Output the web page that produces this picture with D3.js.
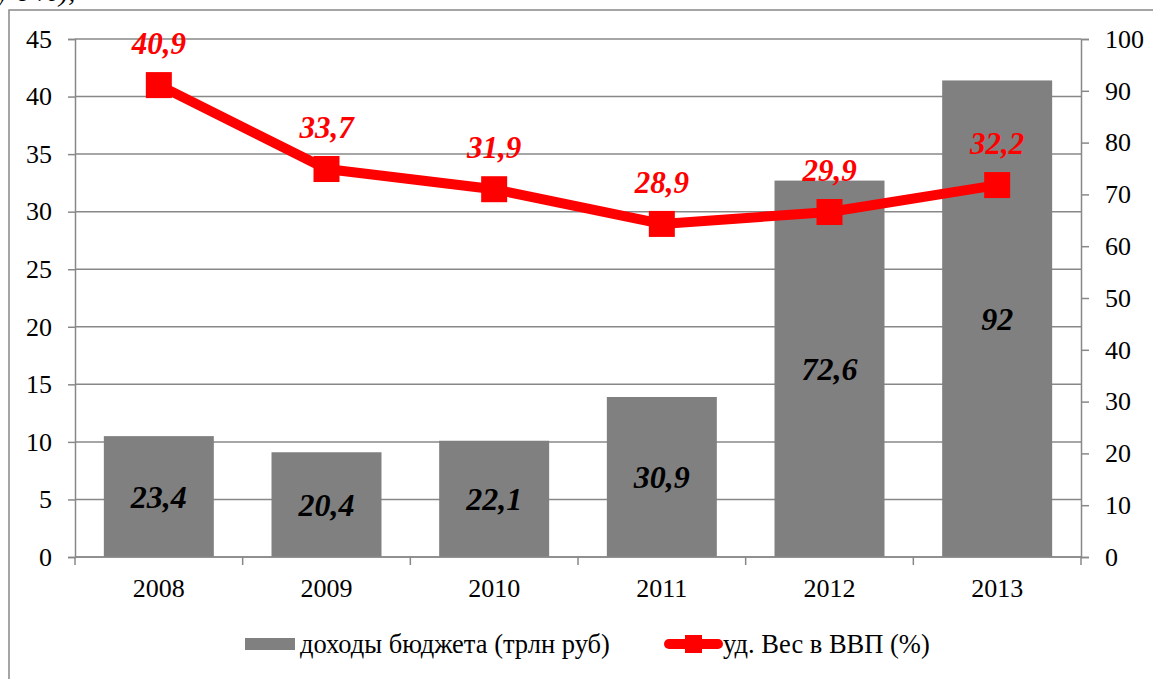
<!DOCTYPE html>
<html>
<head>
<meta charset="utf-8">
<script src="https://cdn.jsdelivr.net/npm/d3@7"></script>
<style>
  body { margin: 0; background: #fff; overflow: hidden; }
  svg text { font-family: "Liberation Serif", Tinos, "Times New Roman", Times, serif; }
</style>
</head>
<body>
<div id="chart"></div>
<script>
const years = ["2008", "2009", "2010", "2011", "2012", "2013"];
const revenue = [10.5, 9.1, 10.1, 13.9, 32.7, 41.4];        // bar heights, left axis
const revenueLabels = ["23,4", "20,4", "22,1", "30,9", "72,6", "92"];
const gdpShare = [91.1, 74.9, 71.0, 64.3, 66.6, 71.8];      // line, right axis
const gdpLabels = ["40,9", "33,7", "31,9", "28,9", "29,9", "32,2"];
const leftTicks = [0, 5, 10, 15, 20, 25, 30, 35, 40, 45];
const rightTicks = [0, 10, 20, 30, 40, 50, 60, 70, 80, 90, 100];

const W = 1153, H = 679;
const m = { left: 75, right: 72, top: 39, bottom: 122 };

const svg = d3.select("#chart").append("svg")
  .attr("width", W).attr("height", H);

// caption above the frame, cut off by the page edge as in the source
svg.append("text").attr("x", -3).attr("y", 1)
  .attr("font-size", 28).attr("font-style", "italic")
  .text("у  в  %),");

// outer frame
svg.append("path")
  .attr("d", `M9,${H} L9,10 L${W},10`)
  .attr("fill", "none").attr("stroke", "#888").attr("stroke-width", 1.5);

const x = d3.scaleBand().domain(years).range([m.left, W - m.right]);
const yL = d3.scaleLinear().domain([0, 45]).range([H - m.bottom, m.top]);
const yR = d3.scaleLinear().domain([0, 100]).range([H - m.bottom, m.top]);

// gridlines
svg.append("g").selectAll("line").data(leftTicks).enter().append("line")
  .attr("x1", m.left).attr("x2", W - m.right)
  .attr("y1", d => yL(d)).attr("y2", d => yL(d))
  .attr("stroke", "#888").attr("stroke-width", 1.5);

// bars
const barW = x.bandwidth() * 0.656;
svg.append("g").selectAll("rect").data(revenue).enter().append("rect")
  .attr("x", (d, i) => x(years[i]) + (x.bandwidth() - barW) / 2)
  .attr("width", barW)
  .attr("y", d => yL(d))
  .attr("height", d => yL(0) - yL(d))
  .attr("fill", "#808080");

svg.append("g").selectAll("text").data(revenue).enter().append("text")
  .attr("x", (d, i) => x(years[i]) + x.bandwidth() / 2)
  .attr("y", d => (yL(d) + yL(0)) / 2)
  .attr("dy", "0.35em")
  .attr("text-anchor", "middle")
  .attr("font-size", 32).attr("font-weight", "bold").attr("font-style", "italic")
  .attr("fill", "#000")
  .text((d, i) => revenueLabels[i]);

// axes
const axisL = svg.append("g").attr("transform", `translate(${m.left},0)`)
  .call(d3.axisLeft(yL).tickValues(leftTicks).tickSize(7).tickPadding(16));
const axisR = svg.append("g").attr("transform", `translate(${W - m.right},0)`)
  .call(d3.axisRight(yR).tickValues(rightTicks).tickSize(8).tickPadding(16));
const axisX = svg.append("g").attr("transform", `translate(0,${H - m.bottom})`)
  .call(d3.axisBottom(x).tickSize(0).tickPadding(22));

[axisL, axisR, axisX].forEach(g => {
  g.attr("font-family", null);
  g.select(".domain").attr("stroke", "#888").attr("stroke-width", 1.5);
  g.selectAll(".tick line").attr("stroke", "#888").attr("stroke-width", 1.5);
  g.selectAll(".tick text").attr("font-size", 26).attr("fill", "#000");
});
axisX.select(".domain").attr("d", `M${m.left},0H${W - m.right}`);

// category boundary ticks
svg.append("g").selectAll("line").data(years.concat(["end"])).enter().append("line")
  .attr("x1", (d, i) => m.left + i * x.step())
  .attr("x2", (d, i) => m.left + i * x.step())
  .attr("y1", yL(0)).attr("y2", yL(0) + 8)
  .attr("stroke", "#888").attr("stroke-width", 1.5);

// line series
const line = d3.line()
  .x((d, i) => x(years[i]) + x.bandwidth() / 2)
  .y(d => yR(d));
svg.append("path").datum(gdpShare)
  .attr("d", line)
  .attr("fill", "none").attr("stroke", "#ff0000")
  .attr("stroke-width", 10).attr("stroke-linejoin", "round");

const mk = 26;
svg.append("g").selectAll("rect").data(gdpShare).enter().append("rect")
  .attr("x", (d, i) => x(years[i]) + x.bandwidth() / 2 - mk / 2)
  .attr("y", d => yR(d) - mk / 2)
  .attr("width", mk).attr("height", mk)
  .attr("fill", "#ff0000");

svg.append("g").selectAll("text").data(gdpShare).enter().append("text")
  .attr("x", (d, i) => x(years[i]) + x.bandwidth() / 2)
  .attr("y", d => yR(d) - 31)
  .attr("text-anchor", "middle")
  .attr("font-size", 31).attr("font-weight", "bold").attr("font-style", "italic")
  .attr("fill", "#ff0000")
  .text((d, i) => gdpLabels[i]);

// legend
const lg = svg.append("g").attr("transform", "translate(0,644)");
lg.append("rect").attr("x", 245).attr("y", -6).attr("width", 50).attr("height", 12).attr("fill", "#808080");
lg.append("text").attr("x", 300).attr("y", 0).attr("dy", "0.35em")
  .attr("font-size", 26.5).text("доходы бюджета (трлн руб)");
lg.append("line").attr("x1", 669).attr("x2", 718).attr("y1", 0).attr("y2", 0)
  .attr("stroke", "#ff0000").attr("stroke-width", 10).attr("stroke-linecap", "round");
lg.append("rect").attr("x", 685).attr("y", -9).attr("width", 17).attr("height", 18).attr("fill", "#ff0000");
lg.append("text").attr("x", 723).attr("y", 0).attr("dy", "0.35em")
  .attr("font-size", 26.5).text("уд. Вес в ВВП (%)");
</script>
</body>
</html>
